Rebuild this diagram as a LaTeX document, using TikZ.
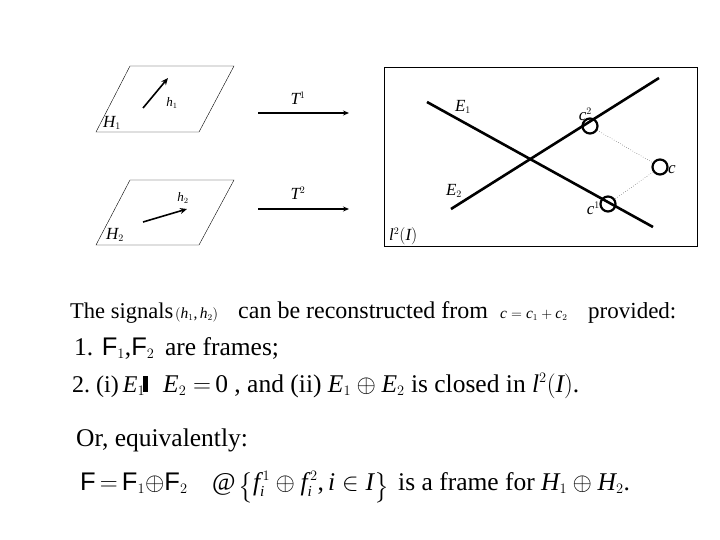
\documentclass[tikz,border=0pt]{standalone}
\usepackage{amsmath, amssymb}
\usepackage{fontspec}
\setmainfont{Liberation Serif}
\setsansfont{Liberation Sans}
\usepackage[italic]{mathastext}
\renewcommand{\defaultscriptratio}{.6}
\renewcommand{\defaultscriptscriptratio}{.45}
\usepackage{tikz}
\usetikzlibrary{arrows.meta,positioning}

\begin{document}
\begin{tikzpicture}[
        x=1pt, y=-1pt,
        lbl/.style={inner sep=0pt, font=\fontsize{17}{19}\selectfont},
        small/.style={inner sep=0pt, font=\fontsize{13}{15}\selectfont},
        txt/.style={inner sep=0pt, anchor=base west, font=\fontsize{22.5}{26}\selectfont},
        btxt/.style={inner sep=0pt, anchor=base west, font=\fontsize{25.5}{30}\selectfont},
        stxt/.style={inner sep=0pt, anchor=base west, font=\fontsize{15.5}{18}\selectfont},
        arr/.style={-{Stealth[length=6pt,width=5pt]}, line width=1.3pt},
        vec/.style={-{Stealth[length=7pt,width=6pt]}, line width=1.6pt},
        axis/.style={line width=2.6pt},
        ring/.style={circle, draw, line width=2.2pt, minimum size=15pt, inner sep=0pt}
    ]
        \useasboundingbox (0,0) rectangle (720,540);
        % the two planes
        \draw (130,66) -- (234,66) -- (199,132) -- (96,132) -- cycle;
        \draw (130,180) -- (234,180) -- (199,245) -- (96,245) -- cycle;
        \node[lbl] (H1) at (112,123) {$H_1$};
        \node[lbl] (H2) at (115,235) {$H_2$};
        \coordinate (h1s) at (143,108);
        \coordinate (h1e) at (168,78);
        \coordinate (h2s) at (143,222);
        \coordinate (h2e) at (187,209);
        \draw[vec] (h1s) -- (h1e);
        \draw[vec] (h2s) -- (h2e);
        \node[small] (h1) at (172,103) {$h_1$};
        \node[small] (h2) at (183,198) {$h_2$};
        % the maps
        \coordinate (t1s) at (258,113);
        \coordinate (t1e) at (349,113);
        \coordinate (t2s) at (258,209);
        \coordinate (t2e) at (349,209);
        \draw[arr] (t1s) -- (t1e);
        \draw[arr] (t2s) -- (t2e);
        \node[lbl] (T1) at (298,98) {$T^1$};
        \node[lbl] (T2) at (298,193) {$T^2$};
        % the space l^2(I)
        \node[draw, line width=0.8pt, minimum width=313pt, minimum height=179pt, anchor=north west, inner sep=0pt] (space) at (384,67) {};
        \coordinate (e1a) at (427,102);
        \coordinate (e1b) at (653,227);
        \coordinate (e2a) at (451,209);
        \coordinate (e2b) at (659,78);
        \draw[axis] (e1a) -- (e1b);
        \draw[axis] (e2a) -- (e2b);
        \node[lbl] (E1) at (463,107) {$E_1$};
        \node[lbl] (E2) at (454,191) {$E_2$};
        \node[ring] (c2) at (590,126) {};
        \node[ring] (c) at (660,167) {};
        \node[ring] (c1) at (608,204) {};
        \draw[dotted] (c2) -- (c) -- (c1);
        \node[lbl, anchor=south east] (c2l) at (592,121) {$c^2$};
        \node[lbl, anchor=west] (cl) at (668,170) {$c$};
        \node[lbl, anchor=east] (c1l) at (600,208) {$c^1$};
        \node[lbl, anchor=south west] (l2) at (389,245) {$l^2(I)$};
        % the conditions
        \node[txt] (sig) at (70,318) {The signals};
        \node[stxt] (pair) at (175,318) {$(h_1,h_2)$};
        \node[txt, font=\fontsize{24}{28}\selectfont] (rec) at (238,318) {can be reconstructed from};
        \node[stxt] (sum) at (500,318) {$c=c_1+c_2$};
        \node[txt, font=\fontsize{23}{27}\selectfont] (prov) at (588,318) {provided:};
        \node[btxt] (one) at (74,355) {1. \textsf{F}$_1$,\textsf{F}$_2$\, are frames;};
        \node[txt, font=\fontsize{24}{28}\selectfont] (two) at (72,392) {\spaceskip=4pt\relax 2. (i) $E_1$};
        \node[inner sep=0pt, anchor=north west, fill=black, minimum width=5pt, minimum height=16pt] (bar) at (143,376) {};
        \node[btxt] (rest) at (163,392) {$E_2=$\,0 , and (ii) $E_1\oplus E_2$ is closed in $l^2(I)$.};
        \node[btxt] (or) at (76,446) {Or, equivalently:};
        \node[btxt] (frame) at (80,490) {\textsf{F}$\,=\,$\textsf{F}$_1\oplus$\textsf{F}$_2$};
        \node[btxt] (at) at (212,490) {@};
        \node[btxt, font=\fontsize{25.5}{22}\selectfont] (set) at (238,490) {\raisebox{-4pt}{$\big\{$}$f_i^{\,1}\oplus f_i^{\,2}, i\in I$\raisebox{-4pt}{$\big\}$}};
        \node[btxt] (is) at (398,490) {is a frame for $H_1\oplus H_2$.};
    \end{tikzpicture}
\end{document}
